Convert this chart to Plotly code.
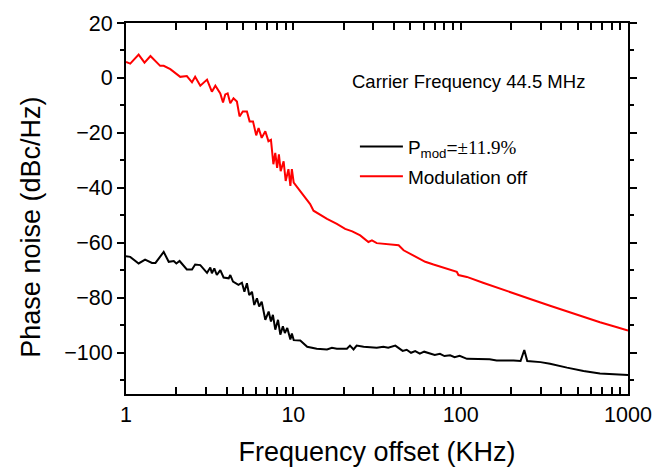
import plotly.graph_objects as go

# Modulation off (red)
red_f = [1.0, 1.06, 1.19, 1.29, 1.40, 1.60, 1.68, 1.84, 2.11, 2.31, 2.48, 2.59, 2.78, 3.05, 3.26, 3.42,
         3.66, 3.80, 3.92, 4.05, 4.20, 4.39, 4.60, 4.77, 4.99, 5.28, 5.48, 5.74, 6.0, 6.2, 6.47, 6.8,
         7.1, 7.35, 7.6, 7.8, 8.0, 8.2, 8.4, 8.75, 9.0, 9.35, 9.6, 9.8, 10.05, 11.3, 12.6, 13.2,
         15.9, 18.2, 20.4, 22.5, 25.1, 28.1, 29.5, 31.5, 35.0, 39.8, 42.6, 45.6, 47.6, 53.5, 57.2,
         61.4, 68.8, 78.8, 86.5, 94.8, 97.0, 108.9, 136, 171, 226, 271, 342, 432, 542, 680, 860, 1000]
red_db = [5.8, 5.2, 8.5, 5.6, 8.0, 4.4, 4.4, 3.2, 0.4, 0.7, -1.6, 0.4, -2.8, -0.6, -5.0, -2.8,
          -5.6, -8.9, -6.0, -5.6, -9.2, -7.4, -8.6, -14.0, -12.2, -12.2, -15.8, -15.8, -20.9, -18.2, -21.8, -19.4,
          -23.0, -22.5, -31.4, -27.3, -32.7, -27.8, -33.9, -30.3, -37.5, -33.2, -39.3, -33.2, -38.1, -42.3, -45.9, -48.3,
          -51.3, -53.1, -54.9, -55.8, -57.3, -59.7, -59.1, -60.1, -60.4, -60.6, -60.9, -62.7, -63.3, -65.1, -66.1,
          -66.9, -67.9, -69.1, -69.9, -70.5, -71.7, -72.4, -74.5, -76.5, -79.0, -80.8, -82.9, -85.0, -87.0, -88.9, -90.7, -91.9]

# P_mod = ±11.9% (black)
blk_f = [1.0, 1.06, 1.19, 1.30, 1.43, 1.50, 1.68, 1.80, 1.93, 2.0, 2.09, 2.31, 2.48, 2.59, 2.78, 3.05,
         3.19, 3.26, 3.37, 3.49, 3.66, 3.83, 4.11, 4.20, 4.36, 4.70, 4.93, 5.10, 5.28, 5.45, 5.66, 5.84,
         6.06, 6.25, 6.47, 6.80, 7.12, 7.35, 7.55, 7.8, 8.1, 8.36, 8.66, 8.9, 9.2, 9.6, 9.8, 10.05,
         11.0, 12.1, 13.8, 15.9, 17.0, 18.2, 20.9, 21.8, 22.9, 23.9, 26.3, 31.5, 34.5, 36.9, 40.7,
         43.5, 45.0, 47.6, 50.5, 53.5, 57.0, 60.5, 66, 70, 75.2, 80, 86.5, 92, 98.6, 109, 149, 164, 207,
         228, 240, 250, 300, 342, 432, 542, 680, 860, 1000]
blk_db = [-64.9, -65.1, -67.5, -66.1, -67.3, -67.3, -63.3, -66.9, -66.6, -67.5, -66.6, -69.7, -69.7, -67.9, -68.1, -70.9,
          -69.0, -71.1, -69.3, -71.7, -69.9, -72.6, -72.9, -71.7, -74.1, -75.3, -74.5, -77.8, -74.7, -79.0, -77.8, -82.6,
          -80.2, -83.2, -81.4, -88.0, -85.0, -88.6, -86.2, -91.6, -88.0, -93.4, -90.4, -92.8, -91.0, -95.2, -93.0, -95.4,
          -95.5, -97.8, -98.5, -98.8, -98.2, -98.5, -98.5, -97.4, -98.8, -97.4, -97.8, -98.2, -97.8, -98.2, -97.4,
          -98.5, -99.3, -98.9, -100.0, -99.4, -100.3, -99.6, -100.2, -100.8, -100.4, -101.2, -100.9, -101.6, -101.1, -102.2, -102.4, -102.8, -102.8,
          -103.0, -99.0, -103.0, -103.4, -104.0, -105.4, -106.6, -107.5, -107.8, -108.1]

x_major = [1, 10, 100, 1000]
x_ticks = sorted(x_major + [m * d for d in (1, 10, 100) for m in range(2, 10)])
x_ticktext = [str(v) if v in x_major else "" for v in x_ticks]
y_ticks = [-100, -80, -60, -40, -20, 0, 20]

FONT = "Liberation Sans, Arial, sans-serif"

fig = go.Figure()
fig.add_trace(go.Scatter(
    x=blk_f, y=blk_db, mode="lines", line=dict(color="black", width=2), legendgroup="a",
    name="P<sub>mod</sub>=<span style='font-family:Liberation Serif'>±11.9%</span>"))
fig.add_trace(go.Scatter(
    x=red_f, y=red_db, mode="lines", line=dict(color="#ff0000", width=2), legendgroup="b",
    name="Modulation off"))

fig.update_xaxes(type="log", range=[0, 3], tickmode="array", tickvals=x_ticks, ticktext=x_ticktext,
                 showline=True, linecolor="black", linewidth=2, mirror="ticks",
                 ticks="inside", tickcolor="black", tickwidth=1.5, ticklen=7,
                 showgrid=False, zeroline=False,
                 tickfont=dict(family=FONT, size=21.5, color="black"),
                 title=dict(text="Frequency offset (KHz)", font=dict(family=FONT, size=27, color="black"),
                            standoff=16))
fig.update_yaxes(range=[-115, 20], tickvals=y_ticks,
                 showline=True, linecolor="black", linewidth=2, mirror="ticks",
                 ticks="outside", tickcolor="black", tickwidth=1.5, ticklen=7,
                 showgrid=False, zeroline=False,
                 tickfont=dict(family=FONT, size=21.5, color="black"),
                 minor=dict(dtick=10, tick0=0, ticks="outside", ticklen=4, tickcolor="black",
                            tickwidth=1.5, showgrid=False))

# y-axis title (placed as annotation to match reference vertical offset)
fig.add_annotation(text="Phase noise (dBc/Hz)", xref="paper", yref="paper",
                   x=-0.19, y=0.45, xanchor="center", yanchor="middle",
                   textangle=-90, showarrow=False,
                   font=dict(family=FONT, size=27, color="black"))

fig.add_annotation(text="Carrier Frequency 44.5 MHz", xref="paper", yref="paper",
                   x=0.682, y=0.842, xanchor="center", yanchor="middle", showarrow=False,
                   font=dict(family=FONT, size=18.5, color="black"))

fig.update_layout(
    width=667, height=474,
    margin=dict(l=126, r=39, t=21, b=80),
    paper_bgcolor="white", plot_bgcolor="white",
    showlegend=True,
    legend=dict(x=0.456, y=0.718, xanchor="left", yanchor="top",
                bgcolor="rgba(0,0,0,0)", borderwidth=0,
                font=dict(family=FONT, size=19, color="black"),
                itemwidth=43, tracegroupgap=2),
)

fig.write_html("out.html")
